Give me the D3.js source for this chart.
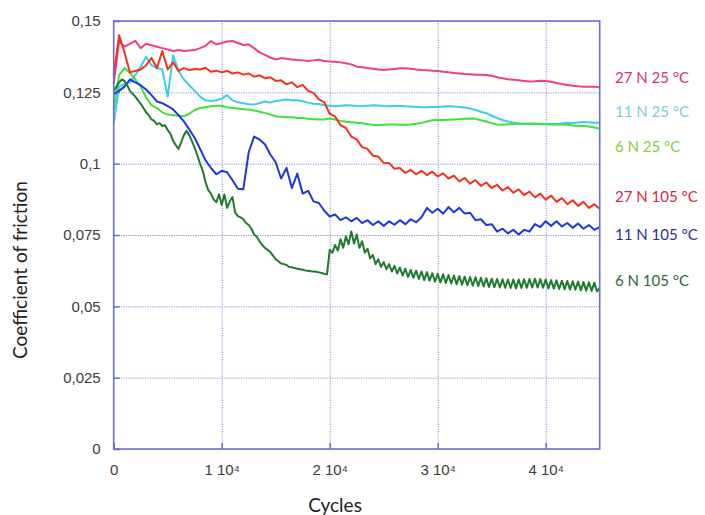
<!DOCTYPE html>
<html><head><meta charset="utf-8">
<script src="https://cdn.jsdelivr.net/npm/d3@7/dist/d3.min.js"></script>
<style>body{margin:0;background:#fff}svg{display:block}</style>
</head><body>
<svg id="chart" width="705" height="515"></svg>
<script>
// ---------- data ----------
const yTicks = [0, 0.025, 0.05, 0.075, 0.1, 0.125, 0.15];
const yTickLabels = ["0", "0,025", "0,05", "0,075", "0,1", "0,125", "0,15"];
const xTicks = [0, 10000, 20000, 30000, 40000];
const xTickLabels = ["0", "1 10\u2074", "2 10\u2074", "3 10\u2074", "4 10\u2074"];
const seriesLabels = ["27 N 25 °C", "11 N 25 °C", "6 N 25 °C", "27 N 105 °C", "11 N 105 °C", "6 N 105 °C"];

// cycles grid for the sampled values (every 500 cycles, and every 250 cycles for 6 N 105 °C)
const cycles500 = d3.range(0, 45001, 500);
const cycles250 = d3.range(0, 45001, 250);

const cof27N25 = [
0.128,0.143,0.141,0.142,0.143,0.1405,0.142,0.1415,0.141,0.1405,
0.14,0.1395,0.1398,0.1395,0.1397,0.1398,0.1405,0.1413,0.143,0.1418,
0.1423,0.1428,0.143,0.1423,0.1416,0.1418,0.1405,0.139,0.1381,0.1372,
0.1365,0.137,0.1368,0.1365,0.1363,0.1362,0.136,0.1362,0.1364,0.136,
0.1358,0.1357,0.1355,0.1352,0.1348,0.134,0.1338,0.1335,0.1333,0.133,
0.1328,0.133,0.1332,0.1334,0.1334,0.1333,0.133,0.1328,0.1327,0.1326,
0.1325,0.1322,0.132,0.1318,0.1316,0.1314,0.1313,0.1312,0.1312,0.1311,
0.1308,0.1303,0.1299,0.1296,0.1294,0.1292,0.129,0.1288,0.1289,0.1291,
0.129,0.1287,0.1283,0.1279,0.1276,0.1273,0.1271,0.127,0.127,0.127,
0.1268];

const cof11N25 = [
0.114,0.127,0.128,0.1285,0.131,0.134,0.1375,0.1345,0.1335,0.133,
0.1235,0.138,0.1325,0.1295,0.1275,0.1255,0.1235,0.1222,0.122,0.1222,
0.1228,0.124,0.1222,0.1215,0.1212,0.1208,0.1207,0.1212,0.1218,0.1214,
0.122,0.1222,0.1225,0.1222,0.1222,0.1219,0.1214,0.121,0.1209,0.1205,
0.1203,0.1201,0.1203,0.1205,0.1204,0.1202,0.1201,0.1203,0.1205,0.1204,
0.1202,0.1201,0.1203,0.1202,0.1201,0.12,0.1199,0.1198,0.1198,0.1199,
0.1199,0.12,0.1201,0.12,0.1199,0.1197,0.1193,0.1188,0.1182,0.1177,
0.1168,0.116,0.1153,0.1148,0.1144,0.1141,0.1139,0.1139,0.114,0.1138,
0.1139,0.114,0.1139,0.1141,0.1143,0.1142,0.1144,0.1146,0.1145,0.1143,
0.1143];

const cof6N25 = [
0.119,0.131,0.1335,0.1318,0.1295,0.127,0.1232,0.1205,0.1195,0.118,
0.1172,0.117,0.1168,0.1166,0.1175,0.1188,0.1195,0.1198,0.1201,0.1203,
0.1203,0.1198,0.1195,0.1193,0.1191,0.119,0.1186,0.1182,0.1178,0.1172,
0.1166,0.1164,0.1163,0.1163,0.116,0.116,0.1157,0.1156,0.1155,0.1155,
0.1158,0.1155,0.115,0.1147,0.1145,0.1143,0.1142,0.1138,0.1136,0.1135,
0.1136,0.1137,0.1137,0.1136,0.1136,0.1137,0.114,0.1143,0.1148,0.1152,
0.1154,0.1153,0.1154,0.1155,0.1156,0.1157,0.1158,0.1157,0.1152,0.1148,
0.1142,0.1137,0.1136,0.1138,0.1139,0.114,0.114,0.1141,0.114,0.1139,
0.1138,0.1137,0.1138,0.1137,0.1136,0.1134,0.1133,0.1132,0.113,0.1127,
0.1123];

const cof27N105 = [
0.131,0.145,0.139,0.132,0.1325,0.133,0.1345,0.137,0.1335,0.1395,
0.133,0.1355,0.1325,0.1335,0.1328,0.1332,0.133,0.1336,0.1322,0.1326,
0.132,0.1325,0.1316,0.132,0.1312,0.1316,0.1305,0.131,0.1299,0.1303,
0.129,0.1292,0.1278,0.1285,0.1268,0.1276,0.1255,0.1248,0.1225,0.1215,
0.1175,0.1165,0.1135,0.1125,0.1095,0.1085,0.1058,0.1052,0.1028,0.1025,
0.1003,0.1002,0.0982,0.0985,0.0968,0.0978,0.0963,0.0975,0.096,0.0972,
0.0955,0.0966,0.0948,0.0958,0.0938,0.095,0.093,0.0942,0.0922,0.0934,
0.0915,0.0926,0.0906,0.0918,0.0898,0.091,0.089,0.0902,0.0882,0.0895,
0.0874,0.0888,0.0866,0.0879,0.0858,0.0872,0.0852,0.0866,0.0845,0.0858,
0.0842];

const cof11N105 = [
0.1245,0.1255,0.127,0.1295,0.1285,0.1275,0.126,0.124,0.1218,0.1212,
0.1202,0.119,0.117,0.1148,0.112,0.109,0.1052,0.1012,0.0985,0.0963,
0.0975,0.097,0.0942,0.0912,0.091,0.104,0.1095,0.1085,0.1068,0.1032,
0.1005,0.0948,0.0985,0.0915,0.0965,0.0895,0.0905,0.0868,0.0862,0.0835,
0.0815,0.0822,0.0802,0.0812,0.0798,0.081,0.0792,0.0802,0.0785,0.0798,
0.0782,0.0798,0.0786,0.0802,0.0788,0.0805,0.0795,0.0812,0.0845,0.0828,
0.0842,0.0825,0.0848,0.083,0.0845,0.0825,0.0828,0.0802,0.0805,0.0785,
0.0788,0.0762,0.0772,0.0756,0.0768,0.0752,0.0768,0.0762,0.0788,0.0778,
0.0798,0.0782,0.0798,0.078,0.0792,0.0775,0.079,0.0772,0.0785,0.0768,
0.0778];

const cof6N105 = [
0.1255,0.127,0.1285,0.1295,0.129,0.1275,0.1255,0.1245,0.1235,0.1222,0.121,0.1195,0.118,0.117,0.1155,0.115,0.1138,0.1142,0.1132,0.1135,
0.1118,0.1105,0.108,0.1065,0.1052,0.1075,0.11,0.1115,0.11,0.1078,0.1055,0.1028,0.1,0.0975,0.0935,0.0908,0.0895,0.0875,0.0865,0.0893,
0.0855,0.0892,0.0845,0.0868,0.0883,0.0828,0.0816,0.0812,0.0805,0.0792,0.0785,0.0772,0.0752,0.0744,0.0728,0.0715,0.0705,0.0698,0.069,0.0678,
0.0665,0.0658,0.065,0.0648,0.0645,0.0638,0.0637,0.0634,0.0632,0.063,0.0628,0.0626,0.0625,0.0623,0.0622,0.0621,0.0619,0.0617,0.0614,0.0612,
0.0698,0.0688,0.0715,0.0695,0.0735,0.0705,0.0745,0.0718,0.0762,0.072,0.0752,0.0705,0.0728,0.0688,0.0702,0.0668,0.068,0.0648,0.0665,0.0638,
0.0655,0.063,0.0648,0.0622,0.0642,0.0615,0.0636,0.0608,0.0632,0.0603,0.0628,0.06,0.0625,0.0596,0.0622,0.0592,0.062,0.059,0.0616,0.0586,
0.0614,0.0584,0.0612,0.0582,0.061,0.058,0.0608,0.0578,0.0606,0.0576,0.0604,0.0574,0.0603,0.0572,0.0602,0.0571,0.06,0.057,0.0598,0.0568,
0.0597,0.0567,0.0596,0.0566,0.0595,0.0565,0.0594,0.0564,0.0594,0.0563,0.0594,0.0564,0.0595,0.0565,0.0596,0.0566,0.0597,0.0566,0.0596,0.0565,
0.0594,0.0563,0.0592,0.0562,0.0591,0.0561,0.059,0.056,0.0589,0.0559,0.0588,0.0558,0.0587,0.0556,0.0585,0.0555,0.0584,0.0554,0.0583,0.0552,
0.0565];

// ---------- drawing ----------
const W = 705, H = 515;
const M = {left: 113.7, right: 599.7, top: 21, bottom: 449};
const svg = d3.select("#chart");
svg.append("rect").attr("width", W).attr("height", H).attr("fill", "#ffffff");

const x = d3.scaleLinear().domain([0, 45000]).range([M.left, M.right]);
const y = d3.scaleLinear().domain([0, 0.15]).range([M.bottom, M.top]);
const gridColor = "#8d8de8";
const frameColor = "#6b6bdc";

// grid lines (dotted)
svg.append("g").attr("transform", `translate(0,${M.bottom})`)
  .call(d3.axisBottom(x).tickValues(xTicks.slice(1)).tickSize(-(M.bottom - M.top)).tickFormat(""))
  .call(g => g.select(".domain").remove())
  .selectAll("line").attr("stroke", gridColor).attr("stroke-width", 1).attr("stroke-dasharray", "1.2,1.2");
svg.append("g").attr("transform", `translate(${M.left},0)`)
  .call(d3.axisLeft(y).tickValues(yTicks.slice(1, -1)).tickSize(-(M.right - M.left)).tickFormat(""))
  .call(g => g.select(".domain").remove())
  .selectAll("line").attr("stroke", gridColor).attr("stroke-width", 1).attr("stroke-dasharray", "1.2,1.2");

// axes with inward solid ticks and labels
const yAxis = svg.append("g").attr("transform", `translate(${M.left},0)`)
  .call(d3.axisLeft(y).tickValues(yTicks).tickSize(-6).tickPadding(13)
    .tickFormat((d, i) => yTickLabels[i]));
yAxis.select(".domain").remove();
yAxis.selectAll("line").attr("stroke", frameColor).attr("stroke-width", 1.5);
yAxis.selectAll("text").attr("font-family", "'Liberation Sans', Arial, sans-serif")
  .attr("font-size", 15).attr("fill", "#3c3c3c");

const xAxis = svg.append("g").attr("transform", `translate(0,${M.bottom})`)
  .call(d3.axisBottom(x).tickValues(xTicks).tickSize(-6).tickPadding(15)
    .tickFormat((d, i) => xTickLabels[i]));
xAxis.select(".domain").remove();
xAxis.selectAll("line").attr("stroke", frameColor).attr("stroke-width", 1.5);
xAxis.selectAll("text").attr("font-family", "'Liberation Sans', Arial, sans-serif")
  .attr("font-size", 15).attr("fill", "#3c3c3c");

// series
const series = [
  {vals: cof27N25, cyc: cycles500, color: "#f2407c"},
  {vals: cof11N25, cyc: cycles500, color: "#3cccf2"},
  {vals: cof6N25, cyc: cycles500, color: "#3ee23a"},
  {vals: cof27N105, cyc: cycles500, color: "#f7301a"},
  {vals: cof11N105, cyc: cycles500, color: "#1f35e0"},
  {vals: cof6N105, cyc: cycles250, color: "#1f7a2e"}
];
const line = d3.line().x(d => x(d[0])).y(d => y(d[1]));
const plot = svg.append("g");
series.forEach(s => {
  const n = Math.min(s.vals.length, s.cyc.length);
  const pts = d3.range(n).map(i => [s.cyc[i], s.vals[i]]);
  plot.append("path").datum(pts).attr("d", line)
    .attr("fill", "none").attr("stroke", s.color).attr("stroke-width", 2)
    .attr("stroke-linejoin", "round");
});

// frame
svg.append("rect").attr("x", M.left).attr("y", M.top)
  .attr("width", M.right - M.left).attr("height", M.bottom - M.top)
  .attr("fill", "none").attr("stroke", frameColor).attr("stroke-width", 1.6);

// right-side labels
const labelColors = ["#d8336c", "#7ccde0", "#86d13e", "#d8283f", "#2e2f92", "#2f6640"];
const labelY = [78, 112, 147, 197, 235, 281];
seriesLabels.forEach((t, i) => {
  svg.append("text").attr("x", 615).attr("y", labelY[i]).attr("dy", "0.35em")
    .attr("font-family", "Lato, 'Open Sans', sans-serif").attr("font-size", 15)
    .attr("fill", labelColors[i]).text(t);
});

// axis titles
svg.append("text").attr("x", 335).attr("y", 505).attr("dy", "0.35em")
  .attr("text-anchor", "middle").attr("font-family", "Lato, 'Open Sans', sans-serif")
  .attr("font-size", 19).attr("fill", "#222").text("Cycles");
svg.append("text").attr("transform", "translate(20,270) rotate(-90)")
  .attr("dy", "0.35em").attr("text-anchor", "middle")
  .attr("font-family", "Lato, 'Open Sans', sans-serif")
  .attr("font-size", 19).attr("fill", "#222").text("Coefficient of friction");
</script>
</body></html>
